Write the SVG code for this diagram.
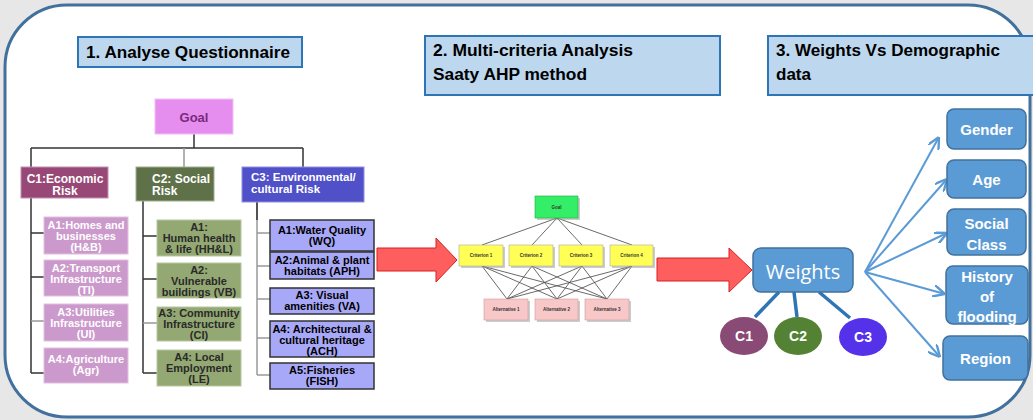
<svg xmlns="http://www.w3.org/2000/svg" width="1033" height="420" viewBox="0 0 1033 420">
<style>
.hdr{fill:#bdd7ee;stroke:#2e75b6;stroke-width:2}
.ht{font-family:"Liberation Sans",Arial,sans-serif;font-weight:bold;font-size:16px;fill:#000}
.t{font-family:"Liberation Sans",Arial,sans-serif;font-weight:bold;text-anchor:middle}
.w11{font-size:11px;fill:#fff}
.d11{font-size:11px;fill:#2a2a2a}
.k11{font-size:11px;fill:#000}
.c12{font-size:12px;fill:#fff}
.tr{stroke:#333;stroke-width:1.5;fill:none}
.trg{stroke:#999;stroke-width:1.5;fill:none}
.pk{fill:#cc99cc;stroke:#e0c0e0;stroke-width:1}
.gr{fill:#93a872;stroke:#b8c8a0;stroke-width:1}
.bl{fill:#a8a8f8;stroke:#333;stroke-width:1.5}
.ahp{stroke:#444;stroke-width:0.8;fill:none}
.sh{fill:#999;opacity:0.5}
.at{font-family:"Liberation Sans",Arial,sans-serif;font-weight:bold;font-size:4.5px;fill:#333;text-anchor:middle}
.rb{fill:#5b9bd5;stroke:#41719c;stroke-width:1.5}
.rt{font-family:"Liberation Sans",Arial,sans-serif;font-weight:bold;font-size:15px;fill:#fff;text-anchor:middle}
.fan{stroke:#5b9bd5;stroke-width:2;fill:none}
.wl{stroke:#2e75b6;stroke-width:3.5}
.red{fill:#ff5e5e;stroke:#d42020;stroke-width:1}
</style>
<defs>
<marker id="ah" markerUnits="userSpaceOnUse" markerWidth="12" markerHeight="12" refX="10" refY="5" orient="auto" viewBox="0 0 10 10">
<path d="M0,0 L10,5 L0,10" fill="none" stroke="#5b9bd5" stroke-width="2"/>
</marker>
</defs>
<rect x="0" y="0" width="1033" height="420" fill="#e7e7e7"/>
<rect x="5" y="5" width="1025" height="412" rx="62" ry="62" fill="#fff" stroke="#41719c" stroke-width="3"/>

<g id="headers">
<rect class="hdr" x="78" y="37" width="224" height="30"/>
<text class="ht" x="86" y="58" textLength="204" lengthAdjust="spacingAndGlyphs">1. Analyse Questionnaire</text>
<rect class="hdr" x="425" y="36" width="295" height="59"/>
<text class="ht" x="433" y="56" textLength="200" lengthAdjust="spacingAndGlyphs">2. Multi-criteria Analysis</text>
<text class="ht" x="433" y="80" textLength="154" lengthAdjust="spacingAndGlyphs">Saaty AHP method</text>
<rect class="hdr" x="768" y="36" width="270" height="59"/>
<text class="ht" x="776" y="56" textLength="224" lengthAdjust="spacingAndGlyphs">3. Weights Vs Demographic</text>
<text class="ht" x="776" y="80" textLength="35" lengthAdjust="spacingAndGlyphs">data</text>
</g>

<g id="connectors">
<path class="tr" d="M194,134 V148 M31,148 H303 M31,148 V167 M303,148 V167"/>
<path class="trg" d="M184,148 V167"/>
<path class="tr" d="M31,198 V373 M31,233 H44 M31,277 H44 M31,373 H44"/>
<path class="trg" d="M31,321 H44"/>
<path class="tr" d="M143,201 V373 M143,236 H157 M143,279 H157 M143,373 H157"/>
<path class="trg" d="M143,323 H157"/>
<path class="trg" d="M257,202 V375 M257,233 H270 M257,266 H270 M257,299 H270 M257,338 H270 M257,375 H270"/>
<path class="tr" d="M257,202 V220"/>
<polygon class="red" points="377,248 436,248 436,238 457,260 436,282 436,271 377,271"/>
<polygon class="red" points="657,258 729,258 729,248 752,270 729,292 729,281 657,281"/>
<path class="ahp" d="M557,218 L482,245 M557,218 L532,245 M557,218 L582,245 M557,218 L632,245"/>
<path class="ahp" d="M482,266 L507,299 M482,266 L557,299 M482,266 L607,299 M532,266 L507,299 M532,266 L557,299 M532,266 L607,299 M582,266 L507,299 M582,266 L557,299 M582,266 L607,299 M632,266 L507,299 M632,266 L557,299 M632,266 L607,299"/>
<path class="wl" d="M779,292 L755,317 M794,292 L797,317 M819,292 L850,318"/>
<path class="fan" marker-end="url(#ah)" d="M865,272 L939,137"/>
<path class="fan" marker-end="url(#ah)" d="M865,272 L947,179"/>
<path class="fan" marker-end="url(#ah)" d="M865,272 L947,233"/>
<path class="fan" marker-end="url(#ah)" d="M865,272 L945,294"/>
<path class="fan" marker-end="url(#ah)" d="M865,272 L940,357"/>
</g>

<g id="goal">
<rect x="155" y="99" width="78" height="35" fill="#e58ef0" stroke="#f0c0f5" stroke-width="1"/>
<text class="t" x="194" y="122" font-size="13" fill="#7a2a7a">Goal</text>
</g>

<g id="c1">
<rect x="21" y="167" width="87" height="31" fill="#984876" stroke="#c090b0" stroke-width="1"/>
<text class="t c12" x="65" y="183">C1:Economic</text>
<text class="t c12" x="65" y="195">Risk</text>
</g>
<g id="c2">
<rect x="136" y="167" width="78" height="34" fill="#5f7149" stroke="#a0b090" stroke-width="1"/>
<text class="t c12" x="152" y="183" text-anchor="start" style="text-anchor:start">C2: Social</text>
<text class="t c12" x="152" y="195" style="text-anchor:start">Risk</text>
</g>
<g id="c3">
<rect x="242" y="167" width="122" height="35" fill="#5050c8" stroke="#9090e0" stroke-width="1"/>
<text class="t c12" x="251" y="181" style="text-anchor:start;font-size:11.5px">C3: Environmental/</text>
<text class="t c12" x="251" y="193" style="text-anchor:start;font-size:11.5px">cultural Risk</text>
</g>

<g id="c1a1"><rect class="pk" x="44" y="217" width="84" height="37"/>
<text class="t w11" x="86" y="229">A1:Homes and</text><text class="t w11" x="86" y="240">businesses</text><text class="t w11" x="86" y="251">(H&amp;B)</text></g>
<g id="c1a2"><rect class="pk" x="44" y="260" width="84" height="36"/>
<text class="t w11" x="86" y="272">A2:Transport</text><text class="t w11" x="86" y="283">Infrastructure</text><text class="t w11" x="86" y="294">(TI)</text></g>
<g id="c1a3"><rect class="pk" x="44" y="304" width="84" height="37"/>
<text class="t w11" x="86" y="316">A3:Utilities</text><text class="t w11" x="86" y="327">Infrastructure</text><text class="t w11" x="86" y="338">(UI)</text></g>
<g id="c1a4"><rect class="pk" x="44" y="348" width="84" height="35"/>
<text class="t w11" x="86" y="363">A4:Agriculture</text><text class="t w11" x="86" y="374">(Agr)</text></g>

<g id="c2a1"><rect class="gr" x="157" y="220" width="84" height="36"/>
<text class="t d11" x="199" y="231">A1:</text><text class="t d11" x="199" y="242">Human health</text><text class="t d11" x="199" y="253">&amp; life (HH&amp;L)</text></g>
<g id="c2a2"><rect class="gr" x="157" y="263" width="84" height="35"/>
<text class="t d11" x="199" y="274">A2:</text><text class="t d11" x="199" y="285">Vulnerable</text><text class="t d11" x="199" y="296">buildings (VB)</text></g>
<g id="c2a3"><rect class="gr" x="157" y="307" width="84" height="34"/>
<text class="t d11" x="199" y="317">A3: Community</text><text class="t d11" x="199" y="328">Infrastructure</text><text class="t d11" x="199" y="339">(CI)</text></g>
<g id="c2a4"><rect class="gr" x="157" y="350" width="84" height="36"/>
<text class="t d11" x="199" y="361">A4: Local</text><text class="t d11" x="199" y="372">Employment</text><text class="t d11" x="199" y="383">(LE)</text></g>

<g id="c3a1"><rect class="bl" x="270" y="220" width="104" height="31"/>
<text class="t k11" x="322" y="234">A1:Water Quality</text><text class="t k11" x="322" y="245">(WQ)</text></g>
<g id="c3a2"><rect class="bl" x="270" y="252" width="104" height="27"/>
<text class="t k11" x="322" y="264">A2:Animal &amp; plant</text><text class="t k11" x="322" y="275">habitats (APH)</text></g>
<g id="c3a3"><rect class="bl" x="270" y="288" width="104" height="26"/>
<text class="t k11" x="322" y="299">A3: Visual</text><text class="t k11" x="322" y="310">amenities (VA)</text></g>
<g id="c3a4"><rect class="bl" x="270" y="321" width="104" height="36"/>
<text class="t k11" x="322" y="333">A4: Architectural &amp;</text><text class="t k11" x="322" y="344">cultural  heritage</text><text class="t k11" x="322" y="355">(ACH)</text></g>
<g id="c3a5"><rect class="bl" x="270" y="363" width="104" height="26"/>
<text class="t k11" x="322" y="374">A5:Fisheries</text><text class="t k11" x="322" y="385">(FISH)</text></g>

<g id="ahp-goal"><rect class="sh" x="537" y="198" width="43" height="22"/><rect x="535" y="196" width="43" height="22" fill="#33ee66" stroke="#22aa44" stroke-width="0.6"/><text class="at" x="556.5" y="208.5">Goal</text></g>
<g id="ahp-c1"><rect class="sh" x="461" y="247" width="44" height="21"/><rect x="459" y="245" width="44" height="21" fill="#ffff55" stroke="#aaa" stroke-width="0.6"/><text class="at" x="481" y="257">Criterion 1</text></g>
<g id="ahp-c2"><rect class="sh" x="511" y="247" width="44" height="21"/><rect x="509" y="245" width="44" height="21" fill="#ffff55" stroke="#aaa" stroke-width="0.6"/><text class="at" x="531" y="257">Criterion 2</text></g>
<g id="ahp-c3"><rect class="sh" x="561" y="247" width="44" height="21"/><rect x="559" y="245" width="44" height="21" fill="#ffff55" stroke="#aaa" stroke-width="0.6"/><text class="at" x="581" y="257">Criterion 3</text></g>
<g id="ahp-c4"><rect class="sh" x="612" y="247" width="43" height="21"/><rect x="610" y="245" width="43" height="21" fill="#ffff55" stroke="#aaa" stroke-width="0.6"/><text class="at" x="631.5" y="257">Criterion 4</text></g>
<g id="ahp-a1"><rect class="sh" x="486" y="301" width="44" height="21"/><rect x="484" y="299" width="44" height="21" fill="#f8c8c8" stroke="#c99" stroke-width="0.6"/><text class="at" x="506" y="311">Alternative 1</text></g>
<g id="ahp-a2"><rect class="sh" x="537" y="301" width="43" height="21"/><rect x="535" y="299" width="43" height="21" fill="#f8c8c8" stroke="#c99" stroke-width="0.6"/><text class="at" x="556.5" y="311">Alternative 2</text></g>
<g id="ahp-a3"><rect class="sh" x="587" y="301" width="44" height="21"/><rect x="585" y="299" width="44" height="21" fill="#f8c8c8" stroke="#c99" stroke-width="0.6"/><text class="at" x="607" y="311">Alternative 3</text></g>

<g id="weights"><rect class="rb" x="753" y="248" width="100" height="44" rx="8"/>
<text x="803" y="279" font-family="'Open Sans','Liberation Sans',sans-serif" font-size="20" fill="#fff" text-anchor="middle">Weights</text></g>
<g id="wc1"><ellipse cx="744" cy="336" rx="24" ry="19" fill="#8a4a76"/><text class="t" x="744" y="341" font-size="14" fill="#fff">C1</text></g>
<g id="wc2"><ellipse cx="798" cy="336" rx="24" ry="19" fill="#548235"/><text class="t" x="798" y="341" font-size="14" fill="#fff">C2</text></g>
<g id="wc3"><ellipse cx="863" cy="337" rx="24" ry="19" fill="#5631ea"/><text class="t" x="863" y="342" font-size="14" fill="#fff">C3</text></g>

<g id="gender"><rect class="rb" x="947" y="109" width="79" height="40" rx="7"/><text class="rt" x="986.5" y="135">Gender</text></g>
<g id="age"><rect class="rb" x="947" y="160" width="79" height="38" rx="7"/><text class="rt" x="986.5" y="185">Age</text></g>
<g id="social"><rect class="rb" x="947" y="209" width="79" height="46" rx="7"/><text class="rt" x="986.5" y="229">Social</text><text class="rt" x="986.5" y="250">Class</text></g>
<g id="history"><rect class="rb" x="946" y="266" width="82" height="58" rx="7"/><text class="rt" x="987" y="282">History</text><text class="rt" x="987" y="302">of</text><text class="rt" x="987" y="322">flooding</text></g>
<g id="region"><rect class="rb" x="943" y="336" width="85" height="44" rx="7"/><text class="rt" x="985.5" y="364">Region</text></g>
</svg>
